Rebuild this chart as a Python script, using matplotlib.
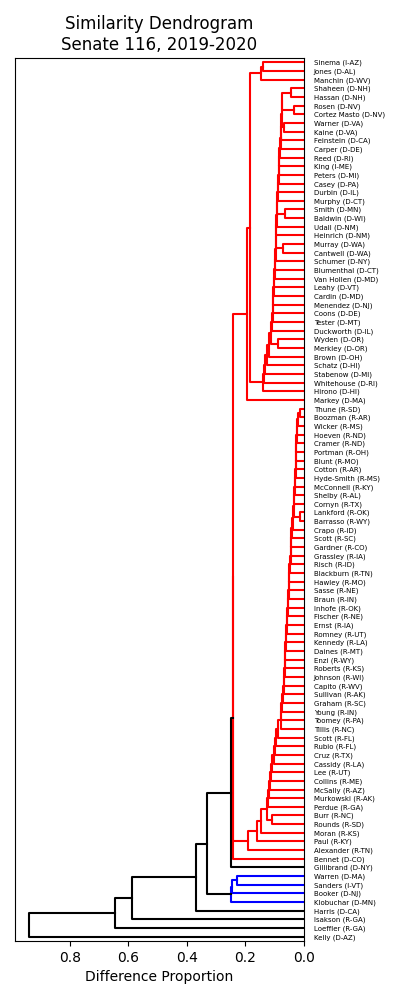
import matplotlib
matplotlib.use("Agg")
import matplotlib.pyplot as plt

# Leaf labels, top to bottom as shown in the chart
labels = [
    "Sinema (I-AZ)", "Jones (D-AL)", "Manchin (D-WV)", "Shaheen (D-NH)", "Hassan (D-NH)",
    "Rosen (D-NV)", "Cortez Masto (D-NV)", "Warner (D-VA)", "Kaine (D-VA)", "Feinstein (D-CA)",
    "Carper (D-DE)", "Reed (D-RI)", "King (I-ME)", "Peters (D-MI)", "Casey (D-PA)",
    "Durbin (D-IL)", "Murphy (D-CT)", "Smith (D-MN)", "Baldwin (D-WI)", "Udall (D-NM)",
    "Heinrich (D-NM)", "Murray (D-WA)", "Cantwell (D-WA)", "Schumer (D-NY)", "Blumenthal (D-CT)",
    "Van Hollen (D-MD)", "Leahy (D-VT)", "Cardin (D-MD)", "Menendez (D-NJ)", "Coons (D-DE)",
    "Tester (D-MT)", "Duckworth (D-IL)", "Wyden (D-OR)", "Merkley (D-OR)", "Brown (D-OH)",
    "Schatz (D-HI)", "Stabenow (D-MI)", "Whitehouse (D-RI)", "Hirono (D-HI)", "Markey (D-MA)",
    "Thune (R-SD)", "Boozman (R-AR)", "Wicker (R-MS)", "Hoeven (R-ND)", "Cramer (R-ND)",
    "Portman (R-OH)", "Blunt (R-MO)", "Cotton (R-AR)", "Hyde-Smith (R-MS)", "McConnell (R-KY)",
    "Shelby (R-AL)", "Cornyn (R-TX)", "Lankford (R-OK)", "Barrasso (R-WY)", "Crapo (R-ID)",
    "Scott (R-SC)", "Gardner (R-CO)", "Grassley (R-IA)", "Risch (R-ID)", "Blackburn (R-TN)",
    "Hawley (R-MO)", "Sasse (R-NE)", "Braun (R-IN)", "Inhofe (R-OK)", "Fischer (R-NE)",
    "Ernst (R-IA)", "Romney (R-UT)", "Kennedy (R-LA)", "Daines (R-MT)", "Enzi (R-WY)",
    "Roberts (R-KS)", "Johnson (R-WI)", "Capito (R-WV)", "Sullivan (R-AK)", "Graham (R-SC)",
    "Young (R-IN)", "Toomey (R-PA)", "Tillis (R-NC)", "Scott (R-FL)", "Rubio (R-FL)",
    "Cruz (R-TX)", "Cassidy (R-LA)", "Lee (R-UT)", "Collins (R-ME)", "McSally (R-AZ)",
    "Murkowski (R-AK)", "Perdue (R-GA)", "Burr (R-NC)", "Rounds (R-SD)", "Moran (R-KS)",
    "Paul (R-KY)", "Alexander (R-TN)", "Bennet (D-CO)", "Gillibrand (D-NY)", "Warren (D-MA)",
    "Sanders (I-VT)", "Booker (D-NJ)", "Klobuchar (D-MN)", "Harris (D-CA)", "Isakson (R-GA)",
    "Loeffler (R-GA)", "Kelly (D-AZ)",
]

# Merges: (name, upper child, lower child, merge distance)
dem_links = [
    ("SJ", "Sinema (I-AZ)", "Jones (D-AL)", 0.139),
    ("SJM", "SJ", "Manchin (D-WV)", 0.147),
    ("SH", "Shaheen (D-NH)", "Hassan (D-NH)", 0.044),
    ("RC", "Rosen (D-NV)", "Cortez Masto (D-NV)", 0.033),
    ("d1", "SH", "RC", 0.074),
    ("WK", "Warner (D-VA)", "Kaine (D-VA)", 0.067),
    ("d2", "d1", "WK", 0.076),
    ("d3", "d2", "Feinstein (D-CA)", 0.078),
    ("d4", "d3", "Carper (D-DE)", 0.080),
    ("d5", "d4", "Reed (D-RI)", 0.082),
    ("d6", "d5", "King (I-ME)", 0.084),
    ("d7", "d6", "Peters (D-MI)", 0.085),
    ("d8", "d7", "Casey (D-PA)", 0.086),
    ("d9", "d8", "Durbin (D-IL)", 0.088),
    ("d10", "d9", "Murphy (D-CT)", 0.090),
    ("SB", "Smith (D-MN)", "Baldwin (D-WI)", 0.065),
    ("d11", "d10", "SB", 0.091),
    ("d12", "d11", "Udall (D-NM)", 0.093),
    ("d13", "d12", "Heinrich (D-NM)", 0.094),
    ("MC", "Murray (D-WA)", "Cantwell (D-WA)", 0.073),
    ("d14", "d13", "MC", 0.095),
    ("d15", "d14", "Schumer (D-NY)", 0.097),
    ("d16", "d15", "Blumenthal (D-CT)", 0.098),
    ("d17", "d16", "Van Hollen (D-MD)", 0.099),
    ("d18", "d17", "Leahy (D-VT)", 0.101),
    ("d19", "d18", "Cardin (D-MD)", 0.103),
    ("d20", "d19", "Menendez (D-NJ)", 0.105),
    ("d21", "d20", "Coons (D-DE)", 0.106),
    ("d22", "d21", "Tester (D-MT)", 0.107),
    ("d23", "d22", "Duckworth (D-IL)", 0.109),
    ("WM", "Wyden (D-OR)", "Merkley (D-OR)", 0.090),
    ("d24", "d23", "WM", 0.111),
    ("d25", "d24", "Brown (D-OH)", 0.118),
    ("d26", "d25", "Schatz (D-HI)", 0.127),
    ("d27", "d26", "Stabenow (D-MI)", 0.132),
    ("d28", "d27", "Whitehouse (D-RI)", 0.136),
    ("d29", "d28", "Hirono (D-HI)", 0.139),
    ("DX", "SJM", "d29", 0.184),
    ("DEM", "DX", "Markey (D-MA)", 0.193),
]

rep_links = [
    ("TB", "Thune (R-SD)", "Boozman (R-AR)", 0.012),
    ("r1", "TB", "Wicker (R-MS)", 0.019),
    ("r2", "r1", "Hoeven (R-ND)", 0.023),
    ("r3", "r2", "Cramer (R-ND)", 0.025),
    ("r4", "r3", "Portman (R-OH)", 0.026),
    ("r5", "r4", "Blunt (R-MO)", 0.027),
    ("r6", "r5", "Cotton (R-AR)", 0.028),
    ("r7", "r6", "Hyde-Smith (R-MS)", 0.029),
    ("r8", "r7", "McConnell (R-KY)", 0.030),
    ("r9", "r8", "Shelby (R-AL)", 0.031),
    ("r10", "r9", "Cornyn (R-TX)", 0.033),
    ("LB", "Lankford (R-OK)", "Barrasso (R-WY)", 0.012),
    ("r11", "r10", "LB", 0.035),
    ("r12", "r11", "Crapo (R-ID)", 0.037),
    ("r13", "r12", "Scott (R-SC)", 0.040),
    ("r14", "r13", "Gardner (R-CO)", 0.043),
    ("r15", "r14", "Grassley (R-IA)", 0.045),
    ("r16", "r15", "Risch (R-ID)", 0.046),
    ("r17", "r16", "Blackburn (R-TN)", 0.048),
    ("r18", "r17", "Hawley (R-MO)", 0.050),
    ("r19", "r18", "Sasse (R-NE)", 0.051),
    ("r20", "r19", "Braun (R-IN)", 0.052),
    ("r21", "r20", "Inhofe (R-OK)", 0.053),
    ("r22", "r21", "Fischer (R-NE)", 0.055),
    ("r23", "r22", "Ernst (R-IA)", 0.057),
    ("r24", "r23", "Romney (R-UT)", 0.059),
    ("r25", "r24", "Kennedy (R-LA)", 0.061),
    ("r26", "r25", "Daines (R-MT)", 0.063),
    ("r27", "r26", "Enzi (R-WY)", 0.064),
    ("r28", "r27", "Roberts (R-KS)", 0.065),
    ("r29", "r28", "Johnson (R-WI)", 0.066),
    ("r30", "r29", "Capito (R-WV)", 0.067),
    ("r31", "r30", "Sullivan (R-AK)", 0.068),
    ("r32", "r31", "Graham (R-SC)", 0.071),
    ("r33", "r32", "Young (R-IN)", 0.074),
    ("r34", "r33", "Toomey (R-PA)", 0.077),
    ("r35", "r34", "Tillis (R-NC)", 0.080),
    ("r36", "r35", "Scott (R-FL)", 0.089),
    ("r37", "r36", "Rubio (R-FL)", 0.094),
    ("r38", "r37", "Cruz (R-TX)", 0.098),
    ("r39", "r38", "Cassidy (R-LA)", 0.104),
    ("r40", "r39", "Lee (R-UT)", 0.108),
    ("r41", "r40", "Collins (R-ME)", 0.112),
    ("r42", "r41", "McSally (R-AZ)", 0.116),
    ("r43", "r42", "Murkowski (R-AK)", 0.120),
    ("r44", "r43", "Perdue (R-GA)", 0.124),
    ("BR", "Burr (R-NC)", "Rounds (R-SD)", 0.110),
    ("r45", "r44", "BR", 0.128),
    ("r46", "r45", "Moran (R-KS)", 0.146),
    ("r47", "r46", "Paul (R-KY)", 0.162),
    ("REP", "r47", "Alexander (R-TN)", 0.190),
]

top_links = [
    ("DR", "DEM", "REP", 0.241),
    ("RED", "DR", "Bennet (D-CO)", 0.244),
    ("G", "RED", "Gillibrand (D-NY)", 0.251),
    ("WS", "Warren (D-MA)", "Sanders (I-VT)", 0.230),
    ("WSB", "WS", "Booker (D-NJ)", 0.246),
    ("BLUE", "WSB", "Klobuchar (D-MN)", 0.248),
    ("t1", "G", "BLUE", 0.330),
    ("t2", "t1", "Harris (D-CA)", 0.370),
    ("t3", "t2", "Isakson (R-GA)", 0.588),
    ("t4", "t3", "Loeffler (R-GA)", 0.646),
    ("ROOT", "t4", "Kelly (D-AZ)", 0.940),
]

cluster_colors = {"RED": "#ff0000", "BLUE": "#0000ff"}
above_color = "black"
color_threshold = 0.2495

links = dem_links + rep_links + top_links
nodes = {name: (a, b, h) for name, a, b, h in links}
n = len(labels)
leaf_y = {lab: 5 + 10 * (n - 1 - i) for i, lab in enumerate(labels)}

ycache = {}
def ypos(node):
    if node in leaf_y:
        return leaf_y[node]
    if node not in ycache:
        a, b, _ = nodes[node]
        ycache[node] = 0.5 * (ypos(a) + ypos(b))
    return ycache[node]

def height(node):
    return 0.0 if node in leaf_y else nodes[node][2]

# propagate cluster colours down the tree
node_color = {}
def paint(node, col):
    if node in leaf_y:
        return
    node_color[node] = col
    a, b, _ = nodes[node]
    paint(a, col)
    paint(b, col)
for name, col in cluster_colors.items():
    paint(name, col)

fig = plt.figure(figsize=(4, 10), dpi=100)
ax = fig.add_axes([0.0375, 0.059, 0.7225, 0.883])

for name, a, b, h in links:
    ya, yb = ypos(a), ypos(b)
    ha, hb = height(a), height(b)
    if h < color_threshold:
        c = node_color.get(name, above_color)
    else:
        c = above_color
    ax.plot([ha, h, h, hb], [ya, ya, yb, yb], color=c, lw=1.5)

maxh = max(h for _, _, _, h in links)
ax.set_xlim(maxh * 1.05, 0)
ax.set_ylim(0, 10 * n)
ax.set_yticks([leaf_y[l] for l in labels])
ax.set_yticklabels(labels, fontsize=5)
ax.yaxis.set_ticks_position("right")
for line in ax.get_yticklines():
    line.set_visible(False)

ax.set_title("Similarity Dendrogram\nSenate 116, 2019-2020", fontsize=12)
ax.set_xlabel("Difference Proportion", fontsize=10)

fig.savefig("out.png", dpi=100)
